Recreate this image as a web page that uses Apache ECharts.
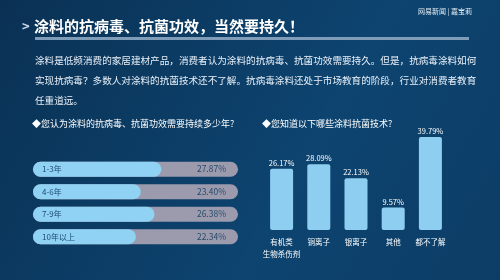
<!DOCTYPE html>
<html>
<head>
<meta charset="utf-8">
<script src="https://cdn.jsdelivr.net/npm/echarts@6/dist/echarts.min.js"></script>
<style>
  html, body { margin: 0; padding: 0; }
  #main { width: 500px; height: 280px; }
</style>
</head>
<body>
<div id="main"></div>
<script>
// 持续年限
var yearCats = ["1-3年", "4-6年", "7-9年", "10年以上"];
var yearVals = [27.87, 23.40, 26.38, 22.34];
// 抗菌技术
var techCats = ["有机类\n生物杀伤剂", "铜离子", "银离子", "其他", "都不了解"];
var techVals = [26.17, 28.09, 22.13, 9.57, 39.79];

var FONT = "Noto Sans CJK SC";
var chart = echarts.init(document.getElementById("main"));

chart.setOption({
  backgroundColor: new echarts.graphic.LinearGradient(0, 0, 1, 1, [
    { offset: 0, color: "#0a3154" },
    { offset: 0.6, color: "#0d4470" },
    { offset: 1, color: "#0c3d66" }
  ]),
  textStyle: { fontFamily: FONT },
  graphic: [
    // 标题
    { type: "text", left: 22, top: 20, style: { text: ">", fill: "#c9d8e8", font: "bold 13px " + FONT } },
    { type: "text", left: 34, top: 19, style: { text: "涂料的抗病毒、抗菌功效，当然要持久！", fill: "#ffffff", font: "bold 15px " + FONT } },
    { type: "rect", shape: { x: 35, y: 37, width: 434, height: 3 }, style: { fill: "#7f9cb9" } },
    { type: "text", right: 28, top: 8, style: { text: "网易新闻 | 嘉宝莉", fill: "#e6eef6", font: "7px " + FONT } },
    // 说明
    {
      type: "text", left: 35, top: 50,
      style: {
        text: "涂料是低频消费的家居建材产品，消费者认为涂料的抗病毒、抗菌功效需要持久。但是，抗病毒涂料如何\n实现抗病毒？多数人对涂料的抗菌技术还不了解。抗病毒涂料还处于市场教育的阶段，行业对消费者教育\n任重道远。",
        fill: "#e8f0f8", font: "9.6px " + FONT, lineHeight: 20
      }
    },
    { type: "text", left: 32, top: 119, style: { text: "◆您认为涂料的抗病毒、抗菌功效需要持续多少年?", fill: "#ffffff", font: "9px " + FONT } },
    { type: "text", left: 262, top: 119, style: { text: "◆您知道以下哪些涂料抗菌技术?", fill: "#ffffff", font: "9px " + FONT } }
  ],
  grid: [
    { left: 33, width: 205, top: 158, height: 90 },
    { left: 263, width: 186, top: 113, height: 117 }
  ],
  xAxis: [
    { gridIndex: 0, type: "value", min: 0, max: 44.5, show: false },
    {
      gridIndex: 1, type: "category", data: techCats,
      axisLine: { show: false }, axisTick: { show: false },
      axisLabel: { color: "#ffffff", fontSize: 7.5, lineHeight: 12, margin: 6, interval: 0 }
    }
  ],
  yAxis: [
    {
      gridIndex: 0, type: "category", data: yearCats, inverse: true,
      axisLine: { show: false }, axisTick: { show: false }, axisLabel: { show: false }
    },
    {
      gridIndex: 0, type: "category", data: yearVals.map(function (v) { return v.toFixed(2) + "%"; }),
      inverse: true, position: "right", z: 10,
      axisLine: { show: false }, axisTick: { show: false },
      axisLabel: { inside: true, margin: 12, color: "#2a4a6a", fontSize: 8.5 }
    },
    { gridIndex: 1, type: "value", min: 0, max: 50, show: false, splitLine: { show: false } }
  ],
  series: [
    {
      type: "bar", xAxisIndex: 0, yAxisIndex: 0, data: yearVals, barWidth: 15,
      showBackground: true,
      backgroundStyle: { color: "#9b9bad", borderRadius: 8 },
      itemStyle: { color: "#8fd2f4", borderRadius: 8 },
      label: {
        show: true, position: "insideLeft", offset: [4, 0],
        formatter: function (p) { return p.name; },
        color: "#1f4a72", fontSize: 8
      },
      z: 2
    },
    {
      type: "bar", xAxisIndex: 1, yAxisIndex: 2, data: techVals, barWidth: 23,
      itemStyle: { color: "#8ecff1", borderRadius: 2 },
      label: {
        show: true, position: "top", distance: 2,
        formatter: function (p) { return p.value.toFixed(2) + "%"; },
        color: "#ffffff", fontSize: 7.5
      }
    }
  ]
});
</script>
</body>
</html>
